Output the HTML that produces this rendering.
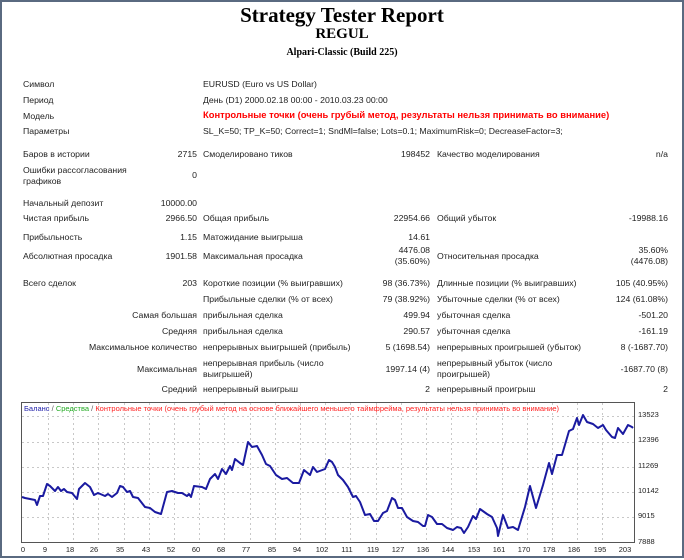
<!DOCTYPE html>
<html><head><meta charset="utf-8"><style>
body{margin:0;width:684px;height:560px;background:#fff;position:relative;overflow:hidden;font-family:"Liberation Sans","DejaVu Sans",sans-serif;}
.frame{position:absolute;left:0;top:0;width:680px;height:554px;border:2px solid #5a6a80;}
.t{position:absolute;font-size:8.7px;color:#222;white-space:nowrap;line-height:10.5px;}
.r{text-align:right;}
h1,h2,h3{position:absolute;left:0;width:684px;text-align:center;margin:0;font-family:"Liberation Serif",serif;font-weight:bold;color:#000;line-height:1;}
</style></head><body>
<div class="frame"></div>
<h1 style="top:5px;font-size:21px;">Strategy Tester Report</h1>
<h2 style="top:27px;font-size:15px;">REGUL</h2>
<h3 style="top:48px;font-size:10px;">Alpari-Classic (Build 225)</h3>

<div class="t" style="left:23px;top:79px">Символ</div>
<div class="t" style="left:203px;top:79px">EURUSD (Euro vs US Dollar)</div>
<div class="t" style="left:23px;top:95px">Период</div>
<div class="t" style="left:203px;top:95px">День (D1) 2000.02.18 00:00 - 2010.03.23 00:00</div>
<div class="t" style="left:23px;top:111px">Модель</div>
<div class="t" style="left:203px;top:110px;color:#f00;font-weight:bold;font-size:9.4px">Контрольные точки (очень грубый метод, результаты нельзя принимать во внимание)</div>
<div class="t" style="left:23px;top:126px">Параметры</div>
<div class="t" style="left:203px;top:126px">SL_K=50; TP_K=50; Correct=1; SndMl=false; Lots=0.1; MaximumRisk=0; DecreaseFactor=3;</div>

<div class="t" style="left:23px;top:149px">Баров в истории</div>
<div class="t r" style="right:487px;top:149px">2715</div>
<div class="t" style="left:203px;top:149px">Смоделировано тиков</div>
<div class="t r" style="right:254px;top:149px">198452</div>
<div class="t" style="left:437px;top:149px">Качество моделирования</div>
<div class="t r" style="right:16px;top:149px">n/a</div>
<div class="t" style="left:23px;top:165px">Ошибки рассогласования<br>графиков</div>
<div class="t r" style="right:487px;top:170px">0</div>

<div class="t" style="left:23px;top:198px">Начальный депозит</div>
<div class="t r" style="right:487px;top:198px">10000.00</div>
<div class="t" style="left:23px;top:213px">Чистая прибыль</div>
<div class="t r" style="right:487px;top:213px">2966.50</div>
<div class="t" style="left:203px;top:213px">Общая прибыль</div>
<div class="t r" style="right:254px;top:213px">22954.66</div>
<div class="t" style="left:437px;top:213px">Общий убыток</div>
<div class="t r" style="right:16px;top:213px">-19988.16</div>
<div class="t" style="left:23px;top:232px">Прибыльность</div>
<div class="t r" style="right:487px;top:232px">1.15</div>
<div class="t" style="left:203px;top:232px">Матожидание выигрыша</div>
<div class="t r" style="right:254px;top:232px">14.61</div>
<div class="t" style="left:23px;top:251px">Абсолютная просадка</div>
<div class="t r" style="right:487px;top:251px">1901.58</div>
<div class="t" style="left:203px;top:251px">Максимальная просадка</div>
<div class="t r" style="right:254px;top:245px">4476.08<br>(35.60%)</div>
<div class="t" style="left:437px;top:251px">Относительная просадка</div>
<div class="t r" style="right:16px;top:245px">35.60%<br>(4476.08)</div>

<div class="t" style="left:23px;top:278px">Всего сделок</div>
<div class="t r" style="right:487px;top:278px">203</div>
<div class="t" style="left:203px;top:278px">Короткие позиции (% выигравших)</div>
<div class="t r" style="right:254px;top:278px">98 (36.73%)</div>
<div class="t" style="left:437px;top:278px">Длинные позиции (% выигравших)</div>
<div class="t r" style="right:16px;top:278px">105 (40.95%)</div>
<div class="t" style="left:203px;top:294px">Прибыльные сделки (% от всех)</div>
<div class="t r" style="right:254px;top:294px">79 (38.92%)</div>
<div class="t" style="left:437px;top:294px">Убыточные сделки (% от всех)</div>
<div class="t r" style="right:16px;top:294px">124 (61.08%)</div>
<div class="t r" style="right:487px;top:310px">Самая большая</div>
<div class="t" style="left:203px;top:310px">прибыльная сделка</div>
<div class="t r" style="right:254px;top:310px">499.94</div>
<div class="t" style="left:437px;top:310px">убыточная сделка</div>
<div class="t r" style="right:16px;top:310px">-501.20</div>
<div class="t r" style="right:487px;top:326px">Средняя</div>
<div class="t" style="left:203px;top:326px">прибыльная сделка</div>
<div class="t r" style="right:254px;top:326px">290.57</div>
<div class="t" style="left:437px;top:326px">убыточная сделка</div>
<div class="t r" style="right:16px;top:326px">-161.19</div>
<div class="t r" style="right:487px;top:342px">Максимальное количество</div>
<div class="t" style="left:203px;top:342px">непрерывных выигрышей (прибыль)</div>
<div class="t r" style="right:254px;top:342px">5 (1698.54)</div>
<div class="t" style="left:437px;top:342px">непрерывных проигрышей (убыток)</div>
<div class="t r" style="right:16px;top:342px">8 (-1687.70)</div>
<div class="t r" style="right:487px;top:364px">Максимальная</div>
<div class="t" style="left:203px;top:358px">непрерывная прибыль (число<br>выигрышей)</div>
<div class="t r" style="right:254px;top:364px">1997.14 (4)</div>
<div class="t" style="left:437px;top:358px">непрерывный убыток (число<br>проигрышей)</div>
<div class="t r" style="right:16px;top:364px">-1687.70 (8)</div>
<div class="t r" style="right:487px;top:384px">Средний</div>
<div class="t" style="left:203px;top:384px">непрерывный выигрыш</div>
<div class="t r" style="right:254px;top:384px">2</div>
<div class="t" style="left:437px;top:384px">непрерывный проигрыш</div>
<div class="t r" style="right:16px;top:384px">2</div>

<svg style="position:absolute;left:0;top:0" width="684" height="560">
<g stroke="#c8c8c8" stroke-dasharray="2,3" stroke-width="1">
<line x1="22" x2="635" y1="416.5" y2="416.5"/><line x1="22" x2="635" y1="442.5" y2="442.5"/>
<line x1="22" x2="635" y1="467.5" y2="467.5"/><line x1="22" x2="635" y1="492.5" y2="492.5"/>
<line x1="22" x2="635" y1="517.5" y2="517.5"/>
<line x1="48.5" x2="48.5" y1="403" y2="542"/><line x1="73.5" x2="73.5" y1="403" y2="542"/><line x1="98.5" x2="98.5" y1="403" y2="542"/><line x1="124.5" x2="124.5" y1="403" y2="542"/><line x1="149.5" x2="149.5" y1="403" y2="542"/><line x1="174.5" x2="174.5" y1="403" y2="542"/><line x1="199.5" x2="199.5" y1="403" y2="542"/><line x1="224.5" x2="224.5" y1="403" y2="542"/><line x1="250.5" x2="250.5" y1="403" y2="542"/><line x1="275.5" x2="275.5" y1="403" y2="542"/><line x1="300.5" x2="300.5" y1="403" y2="542"/><line x1="325.5" x2="325.5" y1="403" y2="542"/><line x1="350.5" x2="350.5" y1="403" y2="542"/><line x1="376.5" x2="376.5" y1="403" y2="542"/><line x1="401.5" x2="401.5" y1="403" y2="542"/><line x1="426.5" x2="426.5" y1="403" y2="542"/><line x1="451.5" x2="451.5" y1="403" y2="542"/><line x1="476.5" x2="476.5" y1="403" y2="542"/><line x1="502.5" x2="502.5" y1="403" y2="542"/><line x1="527.5" x2="527.5" y1="403" y2="542"/><line x1="552.5" x2="552.5" y1="403" y2="542"/><line x1="577.5" x2="577.5" y1="403" y2="542"/><line x1="602.5" x2="602.5" y1="403" y2="542"/>
</g>
<rect x="21.5" y="402.5" width="613" height="140" fill="none" stroke="#555" stroke-width="1"/>
<text x="24" y="411" font-size="7.5" font-family="Liberation Sans, sans-serif"><tspan fill="#2222aa">Баланс</tspan><tspan fill="#555"> / </tspan><tspan fill="#22aa22">Средства</tspan><tspan fill="#555"> / </tspan><tspan fill="#ff2222">Контрольные точки (очень грубый метод на основе ближайшего меньшего таймфрейма, результаты нельзя принимать во внимание)</tspan></text>
<polyline fill="none" stroke="#1a1aa0" stroke-width="2" stroke-linejoin="round" points="22,497 25,498 30,499 35,500 37,505 40,496 43,496 47,484 50,486 55,491 58,487 61,491 64,489 67,492 72,493 77,499 79,489 85,483 90,487 94,495 98,493 105,496 108,494 112,497 117,493 120,486 123,487 127,492 130,491 133,497 138,498 145,507 150,508 155,512 161,514 167,492 172,491 178,493 182,493 187,496 189,494 191,497 194,486 202,487 206,489 210,479 215,474 218,479 222,469 226,474 230,466 232,470 235,459 240,463 243,465 248,442 252,447 257,446 262,455 266,464 270,466 276,475 282,479 287,478 293,483 299,483 304,470 310,475 313,467 317,472 325,469 329,460 332,462 335,467 338,475 343,480 348,487 353,497 356,496 360,502 365,515 370,514 374,521 378,521 383,513 387,511 392,498 395,500 398,508 402,508 407,517 413,521 418,522 423,526 425,526 428,515 432,517 437,524 442,524 447,528 453,530 457,527 461,528 464,533 468,527 473,516 476,519 480,509 487,514 492,517 497,528 498,536 503,515 508,528 513,527 518,530 525,507 530,486 536,508 543,485 549,463 552,474 557,455 562,455 569,431 573,429 577,418 579,425 583,415 587,422 593,424 598,428 603,425 606,430 612,437 615,438 618,428 623,434 628,425 632,427 633,428"/>
<g font-size="7.5" font-family="Liberation Sans, sans-serif" fill="#222">
<text x="638" y="417">13523</text><text x="638" y="442">12396</text><text x="638" y="468">11269</text><text x="638" y="493">10142</text><text x="638" y="518">9015</text><text x="638" y="544">7888</text>
</g>
<g font-size="7.5" font-family="Liberation Sans, sans-serif" fill="#222" text-anchor="middle">
<text x="23" y="552">0</text><text x="45" y="552">9</text><text x="70" y="552">18</text><text x="94" y="552">26</text><text x="120" y="552">35</text><text x="146" y="552">43</text><text x="171" y="552">52</text><text x="196" y="552">60</text><text x="221" y="552">68</text><text x="246" y="552">77</text><text x="272" y="552">85</text><text x="297" y="552">94</text><text x="322" y="552">102</text><text x="347" y="552">111</text><text x="373" y="552">119</text><text x="398" y="552">127</text><text x="423" y="552">136</text><text x="448" y="552">144</text><text x="474" y="552">153</text><text x="499" y="552">161</text><text x="524" y="552">170</text><text x="549" y="552">178</text><text x="574" y="552">186</text><text x="600" y="552">195</text><text x="625" y="552">203</text>
</g>
</svg>
</body></html>
